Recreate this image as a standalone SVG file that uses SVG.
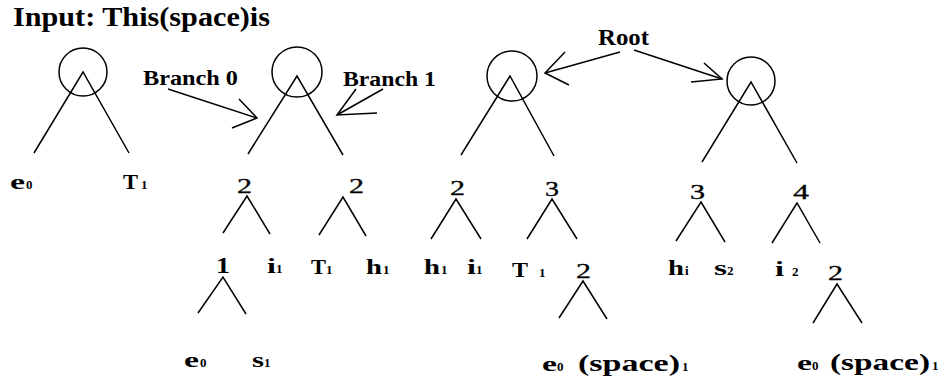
<svg xmlns="http://www.w3.org/2000/svg" width="948" height="385" viewBox="0 0 948 385">
<style>
text{font-family:"Liberation Serif","Times New Roman",serif;font-weight:bold;fill:#000}
.t{font-size:21px}
.n{font-size:20px;font-weight:normal;stroke:#000;stroke-width:0.3}
.s{font-size:13px}
.lbl{font-size:22px}
.sp{font-size:23px}
line,polyline,circle{stroke:#000;stroke-width:1.5;fill:none}
</style>
<rect width="948" height="385" fill="#fff"/>
<g id="title"><text x="13" y="26" font-size="27" textLength="257" lengthAdjust="spacingAndGlyphs">Input: This(space)is</text></g>

<g id="connectors">
  <polyline points="34,153 83,72 129,153"/>
  <polyline points="248,154 297,76 343,155"/>
  <polyline points="223,233 247,196 270,234"/>
  <polyline points="198,313 223,277 246,314"/>
  <polyline points="319,235 343,197 366,236"/>
  <polyline points="461,155 510,76 554,156"/>
  <polyline points="431,239 456,199 481,239"/>
  <polyline points="527,239 552,199 577,239"/>
  <polyline points="559,318 583,281 607,319"/>
  <polyline points="702,162 751,82 797,163"/>
  <polyline points="676,241 701,202 725,242"/>
  <polyline points="772,243 797,203 820,243"/>
  <polyline points="813,323 837,284 862,323"/>
  <line x1="168" y1="89" x2="257" y2="118"/>
  <polyline points="239,99 257,118 232,128"/>
  <line x1="383" y1="89" x2="337" y2="115"/>
  <polyline points="356,89 337,115 377,113"/>
  <line x1="620" y1="52" x2="545" y2="73"/>
  <polyline points="565,52 545,73 569,85"/>
  <line x1="634" y1="50" x2="722" y2="79"/>
  <polyline points="704,63 722,79 691,82"/>
</g>

<g id="arrow-labels">
  <text class="lbl" x="143" y="85" textLength="95" lengthAdjust="spacingAndGlyphs">Branch 0</text>
  <text class="lbl" x="343" y="86" textLength="93" lengthAdjust="spacingAndGlyphs">Branch 1</text>
  <text x="598" y="45" font-size="24" textLength="51" lengthAdjust="spacingAndGlyphs">Root</text>
</g>

<!-- tree 1 -->
<g id="root1"><circle cx="83" cy="72" r="24"/></g>
<g id="t1-e0"><text class="t" x="10" y="189" textLength="15" lengthAdjust="spacingAndGlyphs">e</text><text class="s" x="26" y="189">0</text></g>
<g id="t1-T1"><text class="t" x="123" y="189" textLength="15" lengthAdjust="spacingAndGlyphs">T</text><text class="s" x="141" y="189">1</text></g>

<!-- tree 2 -->
<g id="root2"><circle cx="297" cy="72" r="25"/></g>
<g id="t2-n2a"><text class="n" x="237" y="193" textLength="15" lengthAdjust="spacingAndGlyphs">2</text></g>
<g id="t2-n2b"><text class="n" x="349" y="193" textLength="15" lengthAdjust="spacingAndGlyphs">2</text></g>
<g id="t2-n1"><text x="216" y="273" font-size="23" textLength="14" lengthAdjust="spacingAndGlyphs">1</text></g>
<g id="t2-i1"><text class="t" x="267" y="273" textLength="9" lengthAdjust="spacingAndGlyphs">i</text><text class="s" x="276" y="273">1</text></g>
<g id="t2-T1"><text class="t" x="311" y="274" textLength="15" lengthAdjust="spacingAndGlyphs">T</text><text class="s" x="326" y="274">1</text></g>
<g id="t2-h1"><text class="t" x="366" y="274" textLength="16" lengthAdjust="spacingAndGlyphs">h</text><text class="s" x="383" y="274">1</text></g>
<g id="t2-e0"><text class="t" x="184" y="367" textLength="15" lengthAdjust="spacingAndGlyphs">e</text><text class="s" x="200" y="367">0</text></g>
<g id="t2-s1"><text class="t" x="252" y="367" textLength="12" lengthAdjust="spacingAndGlyphs">s</text><text class="s" x="264" y="367">1</text></g>

<!-- tree 3 -->
<g id="root3"><circle cx="512" cy="76" r="25"/></g>
<g id="t3-n2"><text class="n" x="450" y="195" textLength="15" lengthAdjust="spacingAndGlyphs">2</text></g>
<g id="t3-n3"><text class="n" x="545" y="196" textLength="14" lengthAdjust="spacingAndGlyphs">3</text></g>
<g id="t3-h1"><text class="t" x="424" y="274" textLength="16" lengthAdjust="spacingAndGlyphs">h</text><text class="s" x="441" y="274">1</text></g>
<g id="t3-i1"><text class="t" x="467" y="274" textLength="9" lengthAdjust="spacingAndGlyphs">i</text><text class="s" x="476" y="274">1</text></g>
<g id="t3-T1"><text class="t" x="512" y="277" textLength="16" lengthAdjust="spacingAndGlyphs">T</text><text class="s" x="539" y="277">1</text></g>
<g id="t3-n2b"><text class="n" x="576" y="278" textLength="15" lengthAdjust="spacingAndGlyphs">2</text></g>
<g id="t3-e0"><text class="t" x="542" y="371" textLength="15" lengthAdjust="spacingAndGlyphs">e</text><text class="s" x="557" y="371">0</text></g>
<g id="t3-space1"><text class="sp" x="578" y="371" textLength="102" lengthAdjust="spacingAndGlyphs">(space)</text><text class="s" x="682" y="371">1</text></g>

<!-- tree 4 -->
<g id="root4"><circle cx="751" cy="81" r="24"/></g>
<g id="t4-n3"><text class="n" x="690" y="199" textLength="15" lengthAdjust="spacingAndGlyphs">3</text></g>
<g id="t4-n4"><text class="n" x="793" y="199" textLength="16" lengthAdjust="spacingAndGlyphs">4</text></g>
<g id="t4-hi"><text class="t" x="668" y="275" textLength="16" lengthAdjust="spacingAndGlyphs">h</text><text class="s" x="685" y="275">i</text></g>
<g id="t4-s2"><text class="t" x="714" y="275" textLength="13" lengthAdjust="spacingAndGlyphs">s</text><text class="s" x="727" y="275">2</text></g>
<g id="t4-i2"><text class="t" x="775" y="276" textLength="9" lengthAdjust="spacingAndGlyphs">i</text><text class="s" x="792" y="276">2</text></g>
<g id="t4-n2"><text class="n" x="828" y="280" textLength="15" lengthAdjust="spacingAndGlyphs">2</text></g>
<g id="t4-e0"><text class="t" x="797" y="370" textLength="15" lengthAdjust="spacingAndGlyphs">e</text><text class="s" x="812" y="370">0</text></g>
<g id="t4-space1"><text class="sp" x="830" y="370" textLength="100" lengthAdjust="spacingAndGlyphs">(space)</text><text class="s" x="932" y="370">1</text></g>
</svg>
